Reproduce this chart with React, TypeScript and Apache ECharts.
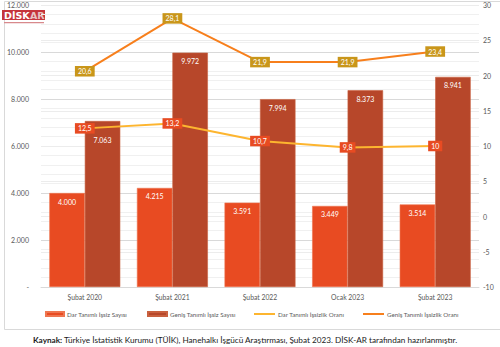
import React, { useEffect, useRef } from "react";
import * as echarts from "echarts";

const categories = ["Şubat 2020", "Şubat 2021", "Şubat 2022", "Ocak 2023", "Şubat 2023"];
const darSayisi = [4000, 4215, 3591, 3449, 3514];
const genisSayisi = [7063, 9972, 7994, 8373, 8941];
const darOrani = [12.5, 13.2, 10.7, 9.8, 10];
const genisOrani = [20.6, 28.1, 21.9, 21.9, 23.4];
const seriesNames = [
  "Dar Tanımlı İşsiz Sayısı",
  "Geniş Tanımlı İşsiz Sayısı",
  "Dar Tanımlı İşsizlik Oranı",
  "Geniş Tanımlı İşsizlik Oranı",
];
const sourceBold = "Kaynak:";
const sourceText =
  " Türkiye İstatistik Kurumu (TÜİK), Hanehalkı İşgücü Araştırması, Şubat 2023. DİSK-AR tarafından hazırlanmıştır.";

const FONT = "Lato";
const C_DAR = "#E84B22";
const C_GENIS = "#B7472A";
const C_DAR_LINE = "#FDB52F";
const C_GENIS_LINE = "#F77F1C";
const C_GOLD = "#C9961A";

const fmtThousands = (v: number) =>
  v === 0 ? "-" : String(Math.round(v)).replace(/\B(?=(\d{3})+(?!\d))/g, ".");
const fmtDec = (v: number) => String(v).replace(".", ",");

export default function App() {
  const ref = useRef<HTMLDivElement>(null);
  useEffect(() => {
    if (!ref.current) return;
    const chart = echarts.init(ref.current, undefined, { renderer: "svg" });
    const barLabel = {
      show: true,
      position: "insideTop" as const,
      distance: 5,
      color: "#fff",
      fontSize: 7,
      fontFamily: FONT,
      formatter: (p: any) => fmtThousands(p.value),
    };
    const legendBase = {
      top: 311,
      padding: 0,
      itemGap: 0,
      textStyle: { color: "#595959", fontSize: 6.2, fontFamily: FONT, padding: [0, 0, 0, -2] },
    };
    chart.setOption({
      animation: false,
      textStyle: { fontFamily: FONT },
      grid: { left: 41, right: 21, top: 5, bottom: 60 },
      xAxis: {
        type: "category",
        data: categories,
        axisLine: { lineStyle: { color: "#d9d9d9" } },
        axisTick: { show: false },
        axisLabel: { color: "#595959", fontSize: 6.8, fontFamily: FONT, margin: 6 },
      },
      yAxis: [
        {
          type: "value",
          min: 0,
          max: 12000,
          interval: 2000,
          axisLine: { show: false },
          axisTick: { show: false },
          axisLabel: {
            color: "#595959",
            fontSize: 7,
            fontFamily: FONT,
            margin: 12,
            formatter: (v: number) => fmtThousands(v),
          },
          splitLine: { lineStyle: { color: "#d9d9d9", width: 1 } },
          minorTick: { show: false, splitNumber: 5 },
          minorSplitLine: { show: true, lineStyle: { color: "#f0f0f0", width: 1 } },
        },
        {
          type: "value",
          min: -10,
          max: 30,
          interval: 5,
          axisLine: { show: false },
          axisTick: { show: false },
          axisLabel: { color: "#595959", fontSize: 7, fontFamily: FONT, margin: 4 },
          splitLine: { show: true, lineStyle: { color: "#ececec", width: 1 } },
        },
      ],
      legend: [
        { ...legendBase, left: 45, data: [{ name: seriesNames[0], icon: "rect" }], itemWidth: 18, itemHeight: 4 },
        { ...legendBase, left: 147, data: [{ name: seriesNames[1], icon: "rect" }], itemWidth: 19, itemHeight: 4 },
        { ...legendBase, left: 254, data: [{ name: seriesNames[2], icon: "rect" }], itemWidth: 21, itemHeight: 2 },
        { ...legendBase, left: 363, data: [{ name: seriesNames[3], icon: "rect" }], itemWidth: 21, itemHeight: 2 },
      ],
      series: [
        {
          name: seriesNames[0],
          type: "bar",
          data: darSayisi,
          barGap: "0%",
          barCategoryGap: "19%",
          itemStyle: { color: C_DAR, borderColor: "#ef7650", borderWidth: 0.6 },
          label: barLabel,
        },
        {
          name: seriesNames[1],
          type: "bar",
          data: genisSayisi.map((v, i) => (i === 0 ? { value: v, label: { distance: 15 } } : v)),
          itemStyle: { color: C_GENIS, borderColor: "#c9613f", borderWidth: 0.6 },
          label: barLabel,
        },
        {
          name: seriesNames[2],
          type: "line",
          yAxisIndex: 1,
          data: darOrani,
          symbol: "circle",
          symbolSize: 1,
          lineStyle: { color: C_DAR_LINE, width: 2 },
          itemStyle: { color: C_DAR_LINE },
          z: 5,
          label: {
            show: true,
            position: "inside",
            color: "#fff",
            fontSize: 7,
            fontFamily: FONT,
            backgroundColor: C_DAR,
            padding: [2, 3, 1.5, 3],
            formatter: (p: any) => fmtDec(p.value),
          },
        },
        {
          name: seriesNames[3],
          type: "line",
          yAxisIndex: 1,
          data: genisOrani,
          symbol: "circle",
          symbolSize: 1,
          lineStyle: { color: C_GENIS_LINE, width: 2 },
          itemStyle: { color: C_GENIS_LINE },
          z: 5,
          label: {
            show: true,
            position: "inside",
            color: "#fff",
            fontSize: 7,
            fontFamily: FONT,
            backgroundColor: C_GOLD,
            padding: [2, 3, 1.5, 3],
            formatter: (p: any) => fmtDec(p.value),
          },
        },
      ],
      graphic: [
        {
          type: "rect",
          left: 2,
          top: -1,
          shape: { width: 500, height: 328 },
          style: { fill: "none", stroke: "#d9d9d9", lineWidth: 1 },
          silent: true,
        },
        {
          type: "group",
          left: 2,
          top: 10,
          children: [
            { type: "rect", shape: { x: 0, y: 0, width: 43, height: 10 }, style: { fill: "#C5343B" } },
            {
              type: "text",
              x: 2,
              y: 0.5,
              style: { text: "DİSK", fill: "#fff", font: "bold 9.5px 'DejaVu Sans'" },
            },
            {
              type: "text",
              x: 28,
              y: 0.5,
              style: { text: "AR", fill: "#e7c3c3", font: "bold 9.5px 'DejaVu Sans'" },
            },
            { type: "rect", shape: { x: 2, y: 12, width: 40, height: 1.2 }, style: { fill: "#d8898c" } },
          ],
        },
        {
          type: "text",
          left: 33,
          top: 336,
          style: {
            text: `{b|${sourceBold}}{n|${sourceText}}`,
            rich: {
              b: { fontWeight: "bold", fontSize: 8.2, fill: "#1a1a1a", fontFamily: FONT },
              n: { fontSize: 8.2, fill: "#1a1a1a", fontFamily: FONT },
            },
          },
        },
      ],
    });
    return () => chart.dispose();
  }, []);
  return (
    <div
      ref={ref}
      style={{ position: "absolute", left: 0, top: 0, width: 500, height: 347, background: "#fff" }}
    />
  );
}
